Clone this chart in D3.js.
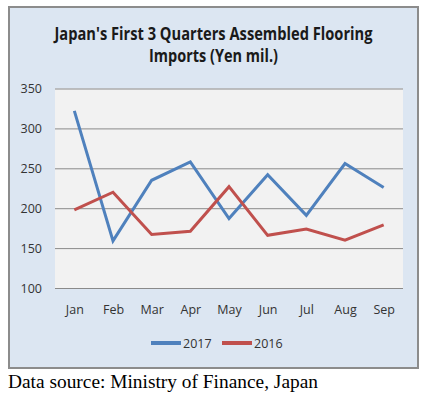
<!DOCTYPE html>
<html><head><meta charset="utf-8">
<script src="https://cdn.jsdelivr.net/npm/d3@7"></script>
<style>
body{margin:0;background:#fff;}
svg{display:block;}
</style></head>
<body>
<svg id="c" width="436" height="397"></svg>
<script>
const months = ["Jan","Feb","Mar","Apr","May","Jun","Jul","Aug","Sep"];
const values2017 = [322,159,235,258,187,242,191,256,226];
const values2016 = [198,220,167,171,227,166,174,160,179];
const yTicks = [100,150,200,250,300,350];
const seriesNames = ["2017","2016"];
const seriesColors = ["#4f81bd","#c0504d"];
const titleLines = ["Japan's First 3 Quarters Assembled Flooring","Imports (Yen mil.)"];
const sourceText = "Data source: Ministry of Finance, Japan";

const svg = d3.select("#c");
// outer chart box
svg.append("rect").attr("x",9).attr("y",7).attr("width",409).attr("height",361)
  .attr("fill","#dce6f2").attr("stroke","#8c8c8c").attr("stroke-width",2);

const plot = {l:55,r:403,t:88.5,b:288};
const x = d3.scalePoint().domain(months).range([plot.l,plot.r]).padding(0.5);
const y = d3.scaleLinear().domain([100,350]).range([plot.b,plot.t]);

svg.append("rect").attr("x",plot.l).attr("y",plot.t).attr("width",plot.r-plot.l).attr("height",plot.b-plot.t)
  .attr("fill","#f2f2f2");

// gridlines via axis
const yAxis = d3.axisLeft(y).tickValues(yTicks).tickSize(-(plot.r-plot.l)).tickPadding(13);
const gy = svg.append("g").attr("transform",`translate(${plot.l},0)`).call(yAxis);
gy.select(".domain").remove();
gy.selectAll(".tick line").attr("stroke","#8a8a8a").attr("stroke-width",1);
gy.selectAll(".tick text").attr("font-family","'Open Sans', 'DejaVu Sans', sans-serif").attr("font-size",12.5)
  .attr("fill","#333");

const xAxis = d3.axisBottom(x).tickSize(0).tickPadding(17);
const gx = svg.append("g").attr("transform",`translate(0,${plot.b})`).call(xAxis);
gx.select(".domain").remove();
gx.selectAll(".tick text").attr("font-family","'Open Sans', 'DejaVu Sans', sans-serif").attr("font-size",12.5)
  .attr("fill","#333");

const line = d3.line().x((d,i)=>x(months[i])).y(d=>y(d));
[values2017,values2016].forEach((vals,k)=>{
  svg.append("path").datum(vals).attr("d",line).attr("fill","none")
    .attr("stroke",seriesColors[k]).attr("stroke-width",3).attr("stroke-linejoin","miter");
});

// title
const tl = [{y:40,w:318},{y:62,w:129}];
titleLines.forEach((t,i)=>{
  svg.append("text").attr("x",213.5).attr("y",tl[i].y).attr("text-anchor","middle")
    .attr("font-family","'Liberation Sans Narrow','Open Sans',sans-serif").attr("font-weight","bold")
    .attr("font-size",17).attr("fill","#1a1a1a")
    .attr("textLength",tl[i].w).attr("lengthAdjust","spacingAndGlyphs").text(t);
});

// legend
const legX = [151,222];
seriesNames.forEach((n,i)=>{
  svg.append("line").attr("x1",legX[i]).attr("x2",legX[i]+30).attr("y1",343).attr("y2",343)
    .attr("stroke",seriesColors[i]).attr("stroke-width",4);
  svg.append("text").attr("x",legX[i]+32).attr("y",347.5)
    .attr("font-family","'Open Sans','DejaVu Sans',sans-serif").attr("font-size",12.5).attr("fill","#333").text(n);
});

// source
svg.append("text").attr("x",8).attr("y",388).attr("font-family","'Liberation Serif','Times New Roman',serif")
  .attr("font-size",19).attr("fill","#000").attr("textLength",310).attr("lengthAdjust","spacingAndGlyphs").text(sourceText);
</script>
</body></html>
